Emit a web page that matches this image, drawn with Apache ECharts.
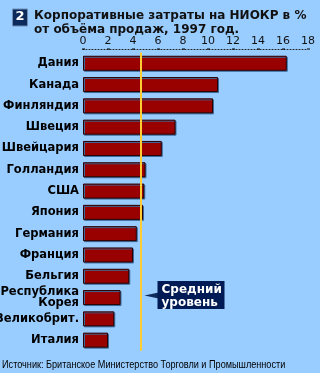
<!DOCTYPE html>
<html><head><meta charset="utf-8">
<script src="https://cdn.jsdelivr.net/npm/echarts@6/dist/echarts.min.js"></script>
<style>html,body{margin:0;padding:0;background:#99CCFF;}#c{width:320px;height:373px;}</style>
</head><body><div id="c"></div>
<script>
const categories = ['Дания','Канада','Финляндия','Швеция','Швейцария','Голландия','США','Япония','Германия','Франция','Бельгия','Республика\nКорея','Великобрит.','Италия'];
const values = [16.3,10.8,10.4,7.4,6.3,5.0,4.9,4.8,4.3,4.0,3.7,3.0,2.5,2.0];
const averageValue = [4.6];
const xTicks = [0,2,4,6,8,10,12,14,16,18];
const titleText = 'Корпоративные затраты на НИОКР в %\nот объёма продаж, 1997 год.';
const sourceText = 'Источник: Британское Министерство Торговли и Промышленности';
const noteText = 'Средний\nуровень';

const chart = echarts.init(document.getElementById('c'), null, {renderer:'canvas'});
const option = {
  backgroundColor: '#99CCFF',
  animation: false,
  title: [{
    text: titleText, left: 34, top: 8.5, padding: 0,
    textStyle: {fontFamily:'DejaVu Sans', fontWeight:'bold', fontSize:12, lineHeight:14, color:'#111'}
  }],
  grid: {left: 83, right: 12, top: 52.6, bottom: 22.2, containLabel:false, outerBoundsMode:'none'},
  xAxis: {
    type:'value', position:'top', min:0, max:18, interval:2, offset:3,
    axisLine:{show:true, lineStyle:{color:'#222', type:[1,2], width:1}},
    axisTick:{show:true, length:1, inside:false, lineStyle:{color:'#000', width:3}},
    axisLabel:{margin:3, fontFamily:'DejaVu Sans', fontSize:11, color:'#111',
      formatter: v => xTicks.includes(v) ? String(v) : ''},
    splitLine:{show:false}
  },
  yAxis: {
    type:'category', data: categories, inverse:true,
    axisLine:{show:false}, axisTick:{show:false},
    axisLabel:{margin:4, fontFamily:'DejaVu Sans', fontWeight:'bold', fontSize:11.5, color:'#000', lineHeight:11}
  },
  series: [{
    type:'bar', data: values, barWidth:15,
    itemStyle:{color:'#990000', borderColor:'#2a0000', borderWidth:1,
      shadowColor:'#3d6a9a', shadowOffsetX:1, shadowOffsetY:1, shadowBlur:0},
    markLine:{
      silent:true, symbol:'none', label:{show:false},
      lineStyle:{color:'#FFCC33', width:2, type:'solid'},
      data:[{xAxis: averageValue[0]}]
    }
  }]
};
chart.setOption(option);

const ax = chart.convertToPixel({xAxisIndex:0}, averageValue[0]);
const ay = chart.convertToPixel({yAxisIndex:0}, categories[11]);
chart.setOption({
  graphic: [
    {type:'rect', left:12, top:8.5, shape:{width:15, height:17}, style:{fill:'#0d2a5c', stroke:'#6f8fb8', lineWidth:1}},
    {type:'text', left:15.5, top:10, style:{text:'2', fill:'#fff', font:'bold 13px DejaVu Sans'}},
    {type:'polygon', shape:{points:[[ax+4, ay-2],[ax+18, ay-5],[ax+18, ay+1]]}, style:{fill:'#0d2a5c'}},
    {type:'rect', shape:{x:ax+17, y:ay-16.5, width:67, height:28}, style:{fill:'#001a55'}},
    {type:'text', x:ax+21, y:ay-14, style:{text:noteText, fill:'#fff', font:'bold 12px DejaVu Sans', lineHeight:13}},
    {type:'text', x:2, y:359, scaleX:0.83, style:{text:sourceText, fill:'#000', font:'11px Liberation Sans'}}
  ]
});
</script></body></html>
